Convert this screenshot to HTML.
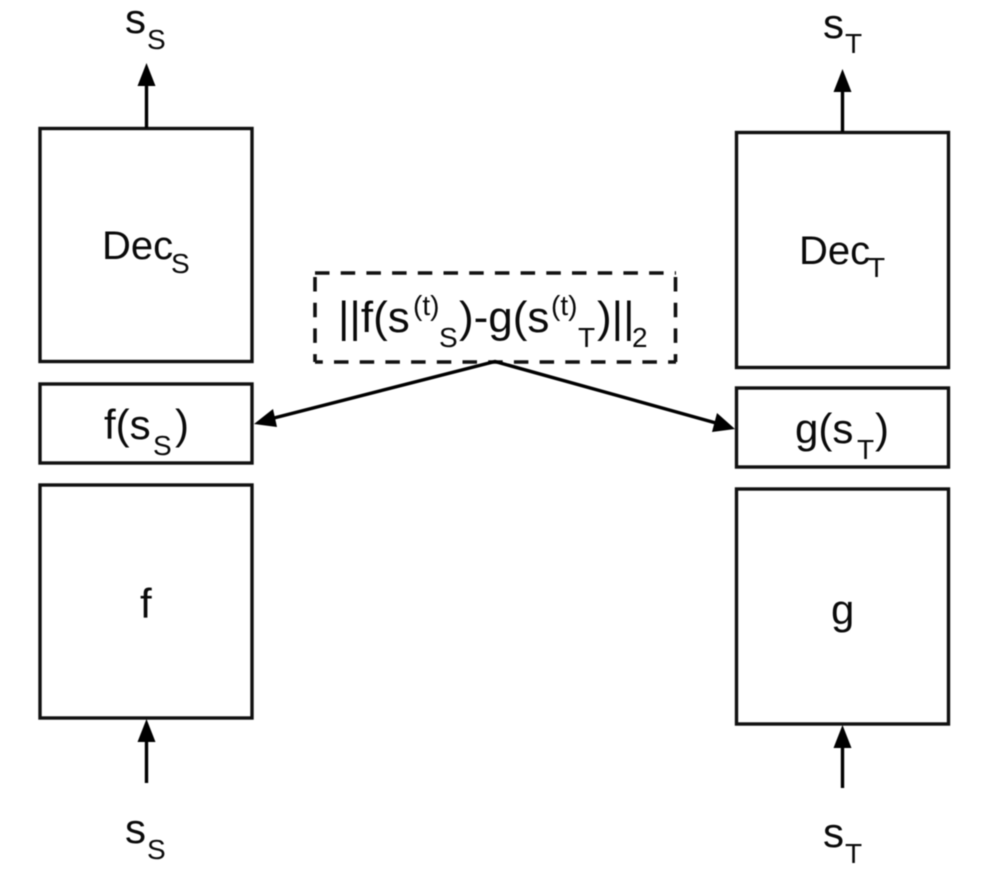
<!DOCTYPE html>
<html>
<head>
<meta charset="utf-8">
<style>
html,body{margin:0;padding:0;background:#fff;width:982px;height:876px;overflow:hidden}
svg{display:block}
text{font-family:"Liberation Sans",Arial,sans-serif;fill:#0a0a0a}
.m{font-size:42px}
.f{font-size:44px}
.d{font-size:40px}
.s{font-size:28px}
.b{fill:#fff;stroke:#111;stroke-width:3.400}
.l{stroke:#000;stroke-width:3.400;fill:none}
.h{stroke:#111;stroke-width:3.600;fill:none;stroke-dasharray:14.500 11.200}
</style>
</head>
<body>
<svg width="982" height="876" viewBox="0 0 982 876" xmlns="http://www.w3.org/2000/svg" style="filter:blur(0.55px)">
<rect class="b" x="40" y="128.500" width="212" height="233"/>
<rect class="b" x="40" y="384" width="212" height="79"/>
<rect class="b" x="40" y="485" width="212" height="233"/>
<rect class="b" x="736.500" y="132.500" width="212" height="235"/>
<rect class="b" x="736.500" y="388" width="212" height="79"/>
<rect class="b" x="736.500" y="489" width="212" height="235"/>

<line class="h" x1="315" y1="273" x2="676" y2="273"/>
<line class="h" x1="315" y1="362" x2="676" y2="362" style="stroke-dashoffset:6.700"/>
<line class="h" x1="315" y1="277" x2="315" y2="362"/>
<line class="h" x1="675.500" y1="277" x2="675.500" y2="362"/>

<line class="l" x1="146.500" y1="128" x2="146.500" y2="84"/>
<polygon points="146.500,63 137.500,86 155.500,86" fill="#000"/>
<line class="l" x1="842.500" y1="132" x2="842.500" y2="90"/>
<polygon points="842.500,69 833.500,92 851.500,92" fill="#000"/>
<line class="l" x1="146.500" y1="783" x2="146.500" y2="740"/>
<polygon points="146.500,719 137.500,742 155.500,742" fill="#000"/>
<line class="l" x1="842.500" y1="788" x2="842.500" y2="746"/>
<polygon points="842.500,725 833.500,748 851.500,748" fill="#000"/>

<polyline class="l" points="274,418 495,361.500 716,423"/>
<polygon points="254,424 273,409 277,427" fill="#000"/>
<polygon points="735,429 717,413 712,432" fill="#000"/>

<text class="m" x="125" y="33">s</text><text class="s" x="147" y="49">S</text>
<text class="m" x="823" y="38">s</text><text class="s" x="845" y="53">T</text>
<text class="m" x="125" y="843">s</text><text class="s" x="147" y="859">S</text>
<text class="m" x="823" y="847">s</text><text class="s" x="845" y="863">T</text>

<text class="d" x="102" y="259">Dec</text><text class="s" x="171" y="273">S</text>
<text class="d" x="799" y="264">Dec</text><text class="s" x="868" y="277">T</text>

<text class="m" x="104" y="439">f(s</text><text class="s" x="153" y="455">S</text><text class="m" x="175" y="439">)</text>
<text class="m" x="795" y="443">g(s</text><text class="s" x="857" y="459">T</text><text class="m" x="875" y="443">)</text>

<text class="m" x="140" y="618">f</text>
<text class="m" x="831" y="624">g</text>

<text class="f" x="338" y="332">||f(s</text>
<text class="s" x="413" y="315">(t)</text>
<text class="s" x="439" y="347">S</text>
<text class="f" x="459" y="332">)-g(s</text>
<text class="s" x="551" y="315">(t)</text>
<text class="s" x="578" y="347">T</text>
<text class="f" x="597" y="332">)||</text>
<text class="s" x="632" y="347">2</text>
</svg>
</body>
</html>
